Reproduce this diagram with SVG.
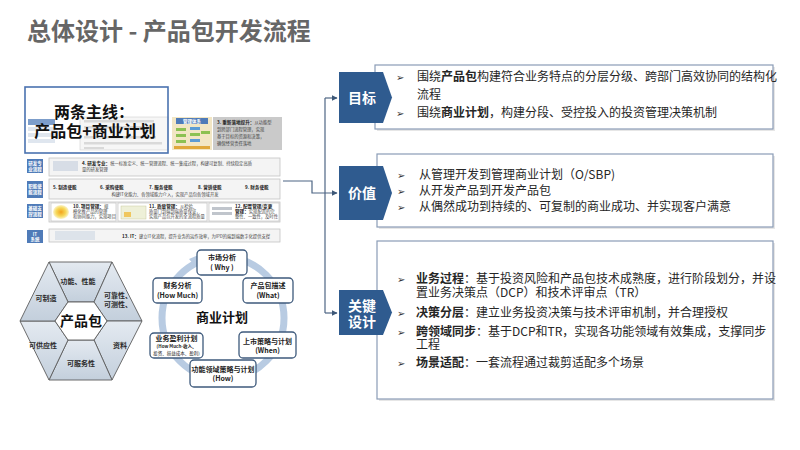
<svg xmlns="http://www.w3.org/2000/svg" width="800" height="450" viewBox="0 0 800 450">
<defs>
<style>
.t{font-family:"Noto Sans CJK SC","Liberation Sans",sans-serif}
.title{font-size:24px;font-weight:bold;fill:#666}
.body{font-size:12px;fill:#262626}
.b{font-weight:bold}
.bul{font-family:"DejaVu Sans",sans-serif;font-size:10px;fill:#333}
.pent{fill:#2f5b8f}
.pt{font-size:14px;font-weight:bold;fill:#fff}
.box{fill:#fff;stroke:#8a9cb6;stroke-width:1.2}
.shadow{fill:#e6e6e6}
.conn{fill:none;stroke:#4d6584;stroke-width:1.2}
.seg{fill:url(#hexg);stroke:#5c5c5c;stroke-width:0.9}
.hl{font-size:7px;fill:#2b2b2b;font-weight:bold}
.cb{fill:#fff;stroke:#3e5a7c;stroke-width:1.3}
.ct{font-size:7px;fill:#222;font-weight:bold}
.cs{font-size:4.5px;fill:#222}
.rl{fill:#4f7bb8}
.rlt{font-size:4.5px;fill:#fff;font-weight:bold}
.rc{fill:#f4f4f4;stroke:#c4c4c4;stroke-width:0.8}
.tiny{font-size:4.3px;fill:#444;font-weight:normal}
.tinyb{font-size:4.6px;fill:#222;font-weight:bold}
.fl{fill:#d9d9d9}
</style>
<linearGradient id="hexg" x1="0" y1="0" x2="0" y2="1">
<stop offset="0" stop-color="#e4eaf1"/>
<stop offset="1" stop-color="#c3cfdc"/>
</linearGradient>
<radialGradient id="blob" cx="0.5" cy="0.5" r="0.5">
<stop offset="0" stop-color="#f3a21b"/>
<stop offset="0.6" stop-color="#f6d85a"/>
<stop offset="1" stop-color="#fbf3c8"/>
</radialGradient>
<marker id="arr" viewBox="0 0 10 10" refX="9" refY="5" markerWidth="5" markerHeight="5" orient="auto">
<path d="M0,0 L10,5 L0,10 z" fill="#3d5878"/>
</marker>
</defs>

<rect width="800" height="450" fill="#fff"/>

<text class="t title" x="27" y="40">总体设计 - 产品包开发流程</text>

<!-- Left panel: process architecture picture -->
<g id="process-panel">
  <rect x="28" y="119" width="27" height="6" fill="#5b85bd" opacity="0.8"/>
  <rect x="28" y="127" width="27" height="4" fill="#dfe6ef"/>
  <rect x="28" y="133" width="27" height="4" fill="#dfe6ef"/>
  <rect x="28" y="139" width="27" height="4" fill="#dfe6ef"/>
  <rect x="80" y="117" width="88" height="33" fill="#f6f6f6" stroke="#cfcfcf" stroke-width="0.6"/>
  <rect class="fl" x="84" y="120" width="70" height="2.5"/>
  <rect class="fl" x="84" y="126" width="60" height="2.5"/>
  <rect class="fl" x="84" y="136" width="72" height="2.5"/>
  <rect class="fl" x="84" y="142" width="78" height="2.5"/>
  <rect class="fl" x="84" y="147" width="20" height="2"/>

  <rect x="25" y="87" width="143" height="66" fill="none" stroke="#4a72b0" stroke-width="1.6"/>
  <text class="t" font-size="16" font-weight="bold" fill="#111" text-anchor="middle"><tspan x="94" y="118">两条主线：</tspan><tspan x="95" y="137">产品包+商业计划</tspan></text>

  <rect x="172" y="117" width="40" height="33" fill="#f2e6c4"/>
  <rect x="176" y="118" width="32" height="6" fill="#4f7bb8"/>
  <text class="t rlt" x="192" y="122.8" text-anchor="middle">管理体系</text>
  <rect x="176" y="128" width="10" height="3" fill="#8cc152"/>
  <rect x="190" y="127" width="10" height="3" fill="#5b9bd5"/>
  <rect x="176" y="134" width="10" height="3" fill="#8cc152"/>
  <rect x="190" y="133" width="10" height="3" fill="#8cc152"/>
  <rect x="201" y="131" width="9" height="3" fill="#8cc152"/>
  <rect x="176" y="140" width="10" height="3" fill="#8cc152"/>
  <rect x="190" y="139" width="10" height="3" fill="#5b9bd5"/>
  <rect x="174" y="146" width="36" height="3" fill="#e0a83c"/>
  <rect x="213" y="117" width="69" height="33" fill="#cacaca"/>
  <text class="t tinyb"><tspan x="217" y="124">3. 重新落地提升：</tspan><tspan class="tiny">从功能型</tspan><tspan class="tiny" x="217" y="131">到跨部门流程管理，实现</tspan><tspan class="tiny" x="217" y="138">基于目标的资源和决策，</tspan><tspan class="tiny" x="217" y="145">确保经营责任落地</tspan></text>

  <!-- Row 1 -->
  <rect class="rl" x="27" y="159" width="16" height="14"/>
  <text class="t rlt" text-anchor="middle"><tspan x="35" y="165">研发专</tspan><tspan x="35" y="171">业流程</tspan></text>
  <rect class="rc" x="49" y="158" width="231" height="18"/>
  <rect x="53" y="161" width="25" height="10" fill="#d7dde6"/>
  <text class="t tinyb"><tspan x="82" y="165">4. 研发专业：</tspan><tspan class="tiny">统一标准定义、统一管理流程、统一集成过程，构建可复制、持续稳定高质</tspan><tspan class="tiny" x="82" y="171">量的研发管理</tspan></text>

  <!-- Row 2 -->
  <rect class="rl" x="27" y="181" width="16" height="17"/>
  <text class="t rlt" text-anchor="middle"><tspan x="35" y="188">职能使</tspan><tspan x="35" y="194">能流程</tspan></text>
  <rect class="rc" x="49" y="179" width="231" height="20"/>
  <text class="t tinyb" font-size="5"><tspan x="53" y="189">5. 制造使能</tspan><tspan x="100" y="189">6. 采购使能</tspan><tspan x="149" y="189">7. 服务使能</tspan><tspan x="198" y="189">8. 营销使能</tspan><tspan x="245" y="189">9. 财务使能</tspan><tspan class="tiny" x="165" y="196" text-anchor="middle">构建IT化能力、各领域能力介入，实现产品包各领域开发</tspan></text>

  <!-- Row 3 -->
  <rect class="rl" x="27" y="204" width="16" height="14"/>
  <text class="t rlt" text-anchor="middle"><tspan x="35" y="210">基础支</tspan><tspan x="35" y="216">撑流程</tspan></text>
  <rect class="rc" x="49" y="202" width="231" height="20"/>
  <rect x="51" y="203" width="65" height="18" fill="#fff" stroke="#bdbdbd" stroke-width="0.6"/>
  <ellipse cx="61" cy="212" rx="8" ry="7" fill="url(#blob)"/>
  <text class="t tinyb"><tspan x="73" y="208">10. 项目管理：</tspan><tspan class="tiny">规</tspan><tspan class="tiny" x="73" y="213">模化推产品的管理</tspan><tspan class="tiny" x="73" y="218">和协同能力，实现项目</tspan></text>
  <rect x="118" y="203" width="89" height="18" fill="#fff" stroke="#bdbdbd" stroke-width="0.6"/>
  <rect x="121" y="206" width="25" height="13" fill="#eef0d8" stroke="#c9c9a0" stroke-width="0.5"/>
  <rect x="124" y="212" width="7" height="5" fill="#f0c75e"/>
  <text class="t tinyb"><tspan x="149" y="208">11. 质量管理：</tspan><tspan class="tiny">从检验、</tspan><tspan class="tiny" x="149" y="213">质量门到端到端质量保证，</tspan><tspan class="tiny" x="149" y="218">实现产品包开发的全流程质量</tspan></text>
  <rect x="209" y="203" width="70" height="18" fill="#fff" stroke="#bdbdbd" stroke-width="0.6"/>
  <rect x="212" y="207" width="20" height="3" fill="#c0c5cc"/>
  <rect x="212" y="212" width="20" height="3" fill="#c0c5cc"/>
  <text class="t tinyb"><tspan x="235" y="208">12. 配置管理/变更</tspan><tspan x="235" y="213">管理：</tspan><tspan class="tiny">实现配置的完</tspan><tspan class="tiny" x="235" y="218">整性、一致性，及时性</tspan></text>

  <!-- Row 4 -->
  <rect class="rl" x="27" y="230" width="16" height="13"/>
  <text class="t rlt" text-anchor="middle"><tspan x="35" y="235.5">IT</tspan><tspan x="35" y="241">系统</tspan></text>
  <rect class="rc" x="49" y="229" width="231" height="13"/>
  <rect x="55" y="231" width="40" height="9" fill="#dde3ea"/>
  <text class="t tinyb" x="122" y="237.5" font-size="4.2">13. IT：<tspan class="tiny" font-size="3.7">建立IT化流程，提升业务的运作效率，为IPD的端到端数字化提供支撑</tspan></text>
</g>

<!-- Product package hexagon -->
<g id="product-package">
  <polygon class="seg" points="49,262 112,262 94,302 68,302"/>
  <polygon class="seg" points="112,262 142,321 107,321 94,302"/>
  <polygon class="seg" points="142,321 112,380 94,340 107,321"/>
  <polygon class="seg" points="112,380 49,380 68,340 94,340"/>
  <polygon class="seg" points="49,380 20,321 55,321 68,340"/>
  <polygon class="seg" points="20,321 49,262 68,302 55,321"/>
  <polygon points="68,302 94,302 107,321 94,340 68,340 55,321" fill="#fff" stroke="#5c5c5c" stroke-width="0.9"/>
  <text class="t hl" x="78" y="284" text-anchor="middle">功能、性能</text>
  <text class="t hl" text-anchor="middle"><tspan x="118" y="298">可靠性、</tspan><tspan x="118" y="307">可测性、</tspan></text>
  <text class="t hl" x="120" y="348" text-anchor="middle">资料</text>
  <text class="t hl" x="81" y="366" text-anchor="middle">可服务性</text>
  <text class="t hl" x="43" y="348" text-anchor="middle">可供应性</text>
  <text class="t hl" x="46" y="301" text-anchor="middle">可制造</text>
  <text class="t" x="81" y="326" font-size="14" font-weight="bold" fill="#111" text-anchor="middle">产品包</text>
</g>

<!-- Business plan cycle -->
<g id="business-plan">
  <circle cx="223" cy="318" r="61" fill="none" stroke="#b8cbe2" stroke-width="7"/>
  <polygon points="189,259 203,253 195,266" fill="#b8cbe2"/>
  <text class="t" x="222" y="322" font-size="13" font-weight="bold" fill="#111" text-anchor="middle">商业计划</text>
  <g id="n-why">
    <rect class="cb" x="197" y="250" width="50" height="25" rx="4"/>
    <text class="t ct" text-anchor="middle"><tspan x="222" y="260">市场分析</tspan><tspan x="222" y="270">( Why )</tspan></text>
  </g>
  <g id="n-what">
    <rect class="cb" x="243" y="278" width="50" height="25" rx="4"/>
    <text class="t ct" text-anchor="middle"><tspan x="268" y="288">产品包描述</tspan><tspan x="268" y="298">(What)</tspan></text>
  </g>
  <g id="n-when">
    <rect class="cb" x="239" y="332" width="57" height="26" rx="4"/>
    <text class="t ct" text-anchor="middle"><tspan x="267.5" y="344">上市策略与计划</tspan><tspan x="267.5" y="353">(When)</tspan></text>
  </g>
  <g id="n-how">
    <rect class="cb" x="190" y="360" width="66" height="27" rx="4"/>
    <text class="t ct" text-anchor="middle"><tspan x="223" y="372">功能领域策略与计划</tspan><tspan x="223" y="381">(How)</tspan></text>
  </g>
  <g id="n-profit">
    <rect class="cb" x="150" y="333" width="53" height="25" rx="4"/>
    <text class="t ct" text-anchor="middle"><tspan x="176.5" y="341">业务盈利计划</tspan><tspan class="cs" x="176.5" y="348">(How Much-收入、</tspan><tspan class="cs" x="176.5" y="355" font-weight="normal">投资、损益成本、盈利)</tspan></text>
  </g>
  <g id="n-finance">
    <rect class="cb" x="153" y="278" width="49" height="25" rx="4"/>
    <text class="t ct" text-anchor="middle"><tspan x="177.5" y="288">财务分析</tspan><tspan x="177.5" y="298">(How Much)</tspan></text>
  </g>
</g>

<!-- Connectors -->
<g id="connectors">
  <path class="conn" d="M283,181 H312 V193 H337" marker-end="url(#arr)"/>
  <path class="conn" d="M325,313 V98"/>
  <path class="conn" d="M325,98 H337" marker-end="url(#arr)"/>
  <path class="conn" d="M325,313 H337" marker-end="url(#arr)"/>
</g>

<!-- Goal -->
<g id="goal">
  <rect class="shadow" x="377" y="67" width="398" height="64"/>
  <rect class="box" x="375" y="65" width="398" height="64"/>
  <polygon class="pent" points="339,72 383,72 392,97.5 383,123 339,123"/>
  <text class="t pt" x="362" y="102.5" text-anchor="middle">目标</text>
  <text class="bul" x="396" y="81">➢</text>
  <text class="t body"><tspan x="417" y="81">围绕</tspan><tspan class="b">产品包</tspan><tspan>构建符合业务特点的分层分级、跨部门高效协同的结构化</tspan><tspan x="417" y="99">流程</tspan></text>
  <text class="bul" x="396" y="117">➢</text>
  <text class="t body" x="417" y="117">围绕<tspan class="b">商业计划</tspan>，构建分段、受控投入的投资管理决策机制</text>
</g>

<!-- Value -->
<g id="value">
  <rect class="shadow" x="379" y="156" width="396" height="73"/>
  <rect class="box" x="377" y="154" width="396" height="73"/>
  <polygon class="pent" points="339,166 383,166 392,193 383,220 339,220"/>
  <text class="t pt" x="362" y="198" text-anchor="middle">价值</text>
  <text class="bul" x="397" y="179">➢</text>
  <text class="t body" x="419" y="179">从管理开发到管理商业计划（O/SBP)</text>
  <text class="bul" x="397" y="195">➢</text>
  <text class="t body" x="419" y="195">从开发产品到开发产品包</text>
  <text class="bul" x="397" y="211">➢</text>
  <text class="t body" x="419" y="211">从偶然成功到持续的、可复制的商业成功、并实现客户满意</text>
</g>

<!-- Key design -->
<g id="key-design">
  <rect class="shadow" x="379" y="243" width="396" height="158"/>
  <rect class="box" x="377" y="241" width="396" height="158"/>
  <polygon class="pent" points="339,290 383,290 392,312.5 383,335 339,335"/>
  <text class="t pt" text-anchor="middle"><tspan x="362" y="311">关键</tspan><tspan x="362" y="327">设计</tspan></text>
  <text class="bul" x="397" y="283">➢</text>
  <text class="t body"><tspan x="416" y="283" class="b">业务过程</tspan><tspan>：基于投资风险和产品包技术成熟度，进行阶段划分，并设</tspan><tspan x="416" y="297">置业务决策点（DCP）和技术评审点（TR）</tspan></text>
  <text class="bul" x="397" y="317">➢</text>
  <text class="t body" x="416" y="317"><tspan class="b">决策分层</tspan>：建立业务投资决策与技术评审机制，并合理授权</text>
  <text class="bul" x="397" y="336">➢</text>
  <text class="t body"><tspan x="416" y="336" class="b">跨领域同步</tspan><tspan>：基于DCP和TR，实现各功能领域有效集成，支撑同步</tspan><tspan x="416" y="349">工程</tspan></text>
  <text class="bul" x="397" y="367">➢</text>
  <text class="t body" x="416" y="367"><tspan class="b">场景适配</tspan>：一套流程通过裁剪适配多个场景</text>
</g>
</svg>
